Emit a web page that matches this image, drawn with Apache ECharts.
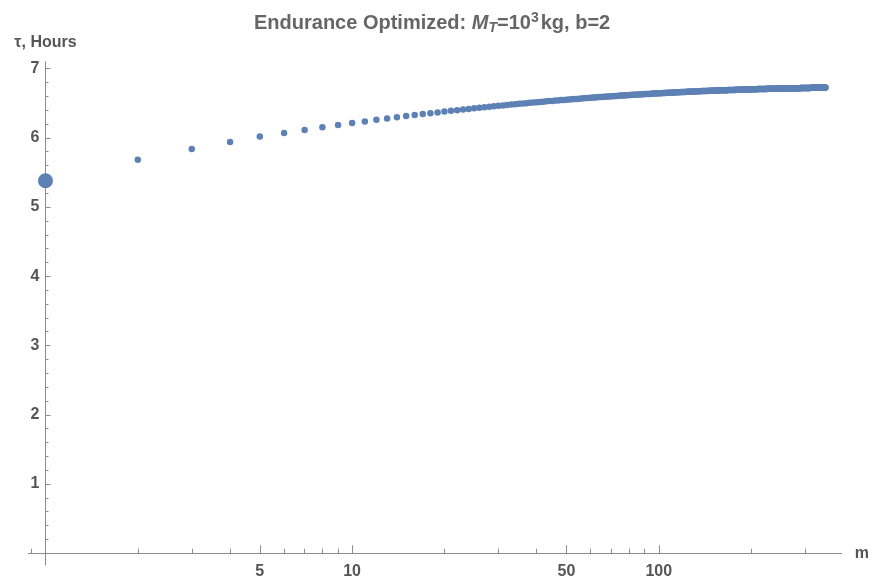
<!DOCTYPE html>
<html>
<head>
<meta charset="utf-8">
<script src="https://cdn.jsdelivr.net/npm/echarts@6/dist/echarts.min.js"></script>
<style>html,body{margin:0;padding:0;background:#fff}#c{width:873px;height:583px}</style>
</head>
<body>
<div id="c"></div>
<script>
// m = 1 point (drawn larger)
const firstPoint = [1, 5.38];
// tau (hours) for m = 2, 3, 4, ... 350
const mStart = 2;
const tau = [
5.684,5.839,5.940,6.018,6.070,6.115,6.154,6.186,6.214,6.238,6.261,6.281,6.298,6.315,6.330,6.344,6.356,6.368,6.379,
6.390,6.400,6.409,6.418,6.427,6.435,6.442,6.449,6.456,6.463,6.469,6.475,6.481,6.486,6.491,6.496,6.501,6.506,6.510,
6.515,6.519,6.523,6.527,6.531,6.534,6.538,6.541,6.545,6.548,6.552,6.555,6.558,6.561,6.563,6.566,6.569,6.572,6.574,
6.577,6.579,6.582,6.584,6.587,6.589,6.591,6.593,6.595,6.597,6.599,6.601,6.602,6.604,6.606,6.608,6.610,6.611,6.613,
6.615,6.616,6.618,6.619,6.621,6.622,6.624,6.625,6.626,6.628,6.629,6.630,6.632,6.633,6.634,6.635,6.637,6.638,6.639,
6.640,6.642,6.643,6.644,6.645,6.646,6.647,6.648,6.649,6.650,6.651,6.652,6.653,6.654,6.654,6.655,6.656,6.657,6.658,
6.659,6.660,6.661,6.661,6.662,6.663,6.664,6.665,6.665,6.666,6.667,6.668,6.668,6.669,6.670,6.670,6.671,6.672,6.672,
6.673,6.673,6.674,6.675,6.675,6.676,6.676,6.677,6.678,6.678,6.679,6.679,6.680,6.680,6.681,6.681,6.682,6.683,6.683,
6.684,6.684,6.685,6.685,6.686,6.686,6.687,6.687,6.687,6.688,6.688,6.689,6.689,6.689,6.690,6.690,6.691,6.691,6.691,
6.692,6.692,6.692,6.693,6.693,6.694,6.694,6.694,6.695,6.695,6.695,6.696,6.696,6.696,6.697,6.697,6.697,6.698,6.698,
6.698,6.699,6.699,6.700,6.700,6.700,6.700,6.701,6.701,6.701,6.702,6.702,6.702,6.702,6.703,6.703,6.703,6.703,6.704,
6.704,6.704,6.704,6.705,6.705,6.705,6.705,6.706,6.706,6.706,6.706,6.707,6.707,6.707,6.707,6.708,6.708,6.708,6.708,
6.708,6.709,6.709,6.709,6.709,6.710,6.710,6.710,6.710,6.710,6.711,6.711,6.711,6.711,6.711,6.712,6.712,6.712,6.712,
6.712,6.713,6.713,6.713,6.713,6.713,6.714,6.714,6.714,6.714,6.714,6.714,6.714,6.715,6.715,6.715,6.715,6.715,6.715,
6.716,6.716,6.716,6.716,6.716,6.716,6.716,6.717,6.717,6.717,6.717,6.717,6.717,6.717,6.718,6.718,6.718,6.718,6.718,
6.718,6.718,6.718,6.719,6.719,6.719,6.719,6.719,6.719,6.719,6.720,6.720,6.720,6.720,6.720,6.720,6.720,6.720,6.721,
6.721,6.721,6.721,6.721,6.721,6.721,6.721,6.722,6.722,6.722,6.722,6.722,6.722,6.722,6.722,6.723,6.723,6.723,6.723,
6.723,6.723,6.723,6.723,6.723,6.723,6.724,6.724,6.724,6.724,6.724,6.724,6.724,6.724,6.724,6.725,6.725,6.725,6.725,
6.725,6.725,6.725,6.725,6.725,6.726,6.726
];
// axis ticks / labels
const xMajorTicks = [5, 10, 50, 100];
const xMinorTicks = [0.9, 2, 3, 4, 6, 7, 8, 9, 20, 30, 40, 60, 70, 80, 90, 200, 300];
const yMajorTicks = [1, 2, 3, 4, 5, 6, 7];
const yMinorTicks = [0.2,0.4,0.6,0.8,1.2,1.4,1.6,1.8,2.2,2.4,2.6,2.8,3.2,3.4,3.6,3.8,4.2,4.4,4.6,4.8,5.2,5.4,5.6,5.8,6.2,6.4,6.6,6.8];

const pts = tau.map((v, i) => [mStart + i, v]);

const FONT = '"Liberation Sans", Arial, sans-serif';
const LBL = '#555555';
const AX = '#8c8c8c';
const PT = '#5E81B5';
const XMIN = 0.879, XMAX = 395, YMIN = -0.17, YMAX = 7.1;
const YOFF = -17.2;

const chart = echarts.init(document.getElementById('c'), null, {renderer: 'canvas'});
chart.setOption({
  animation: false,
  backgroundColor: '#ffffff',
  title: {
    text: '{t|Endurance Optimized: }{i|M}{s|T}{t|=10}{p|3}{t|kg, b=2}',
    left: 249, top: 6,
    textStyle: {
      rich: {
        t: {fontFamily: FONT, fontWeight: 'bold', fontSize: 20, color: '#666666'},
        i: {fontFamily: FONT, fontWeight: 'bold', fontStyle: 'italic', fontSize: 20, color: '#666666'},
        s: {fontFamily: FONT, fontWeight: 'bold', fontStyle: 'italic', fontSize: 14, color: '#666666', padding: [9, 0, 0, 0]},
        p: {fontFamily: FONT, fontWeight: 'bold', fontSize: 14, color: '#666666', padding: [0, 2, 11, 0]}
      }
    }
  },
  grid: {left: 28.3, right: 31.3, top: 61.7, bottom: 18, containLabel: false, outerBoundsMode: 'none'},
  xAxis: [{
    type: 'log', logBase: 10, min: XMIN, max: XMAX, position: 'bottom',
    name: 'm', nameLocation: 'end', nameGap: 13,
    nameTextStyle: {fontFamily: FONT, fontWeight: 'bold', fontSize: 16, color: LBL, verticalAlign: 'middle'},
    axisLine: {show: true, onZero: true, onZeroAxisIndex: 0, lineStyle: {color: AX, width: 1}},
    axisTick: {show: true, inside: true, length: 8, customValues: xMajorTicks, lineStyle: {color: AX, width: 1}},
    axisLabel: {show: true, customValues: xMajorTicks, margin: -1, fontFamily: FONT, fontWeight: 'bold', fontSize: 16, color: LBL},
    splitLine: {show: false}, minorTick: {show: false}, minorSplitLine: {show: false}
  }, {
    type: 'log', logBase: 10, min: XMIN, max: XMAX, position: 'bottom',
    axisLine: {show: false, onZero: true, onZeroAxisIndex: 0},
    axisTick: {show: true, inside: true, length: 4.5, customValues: xMinorTicks, lineStyle: {color: AX, width: 1}},
    axisLabel: {show: false},
    splitLine: {show: false}
  }],
  yAxis: [{
    type: 'value', min: YMIN, max: YMAX, position: 'left', offset: YOFF,
    name: 'τ, Hours', nameLocation: 'end', nameGap: 11,
    nameTextStyle: {fontFamily: FONT, fontWeight: 'bold', fontSize: 16, color: LBL, align: 'center'},
    axisLine: {show: true, onZero: false, lineStyle: {color: AX, width: 1}},
    axisTick: {show: true, inside: true, length: 5, customValues: yMajorTicks, lineStyle: {color: AX, width: 1}},
    axisLabel: {show: true, customValues: yMajorTicks, margin: 6, fontFamily: FONT, fontWeight: 'bold', fontSize: 16, color: LBL},
    splitLine: {show: false}
  }, {
    type: 'value', min: YMIN, max: YMAX, position: 'left', offset: YOFF,
    axisLine: {show: false, onZero: false},
    axisTick: {show: true, inside: true, length: 3, customValues: yMinorTicks, lineStyle: {color: AX, width: 1}},
    axisLabel: {show: false},
    splitLine: {show: false}
  }],
  series: [{
    type: 'scatter', xAxisIndex: 0, yAxisIndex: 0,
    data: [firstPoint], symbol: 'circle', symbolSize: 15,
    itemStyle: {color: PT, opacity: 1}
  }, {
    type: 'scatter', xAxisIndex: 0, yAxisIndex: 0,
    data: pts, symbol: 'circle', symbolSize: 6.5,
    itemStyle: {color: PT, opacity: 1}
  }]
});
</script>
</body>
</html>
